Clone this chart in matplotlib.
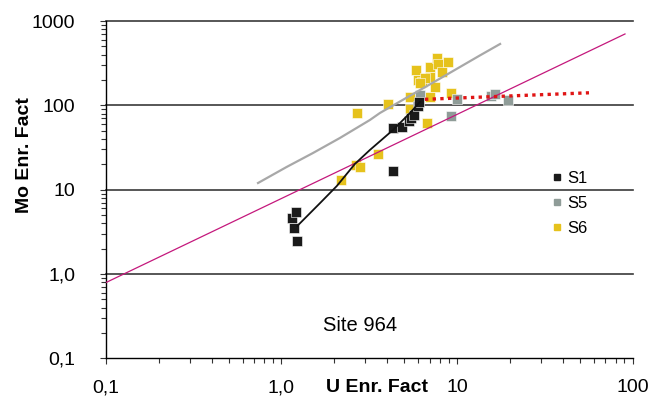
import numpy as np
import matplotlib as mpl
import matplotlib.pyplot as plt
import matplotlib.lines as mlines
from matplotlib.ticker import FixedLocator, FixedFormatter, LogLocator, NullFormatter

mpl.rcParams.update({
    'font.family': ['Liberation Sans', 'DejaVu Sans'],
    'font.size': 14,
    'axes.linewidth': 1.0,
})

# --- data ---
s1_u = [1.23, 1.18, 1.15, 1.21, 4.32, 4.86, 5.33, 5.47, 5.69, 5.99, 6.07, 4.32]
s1_mo = [2.46, 3.51, 4.62, 5.44, 53.9, 55.4, 65.3, 70.9, 76.9, 98.4, 110, 16.7]

s5_u = [6.15, 10.0, 9.25, 15.6, 16.5, 19.5]
s5_mo = [133, 119, 74.9, 129, 137, 116]

s6_u = [2.18, 2.66, 2.80, 3.55, 2.69, 4.04, 5.40, 5.40, 6.75, 5.84, 5.99, 6.32,
        7.02, 7.69, 7.80, 8.22, 7.02, 8.89, 7.49, 7.02, 9.25, 6.57, 6.15]
s6_mo = [13.0, 19.6, 18.6, 26.5, 81.3, 104, 126, 90.6, 61.8, 263, 200, 189,
         286, 365, 310, 249, 217, 327, 165, 126, 140, 211, 184]

# trend lines
s1_fit_u = [1.23, 1.66, 2.07, 2.62, 3.19, 4.32, 5.40, 6.15]
s1_fit_mo = [3.71, 6.95, 11.1, 20.2, 29.6, 51.1, 81.3, 110]

s6_fit_u = [0.735, 1.07, 1.51, 2.15, 3.19, 3.64, 8.0, 13.5, 17.6]
s6_fit_mo = [12.0, 18.6, 27.2, 41.0, 67.1, 81.3, 208, 391, 535]

s5_fit_u = [6.57, 56.5]
s5_fit_mo = [118, 141]

sw_u = [0.1, 90.6]
sw_mo = [0.792, 703]

y_ticks = [0.1, 1, 10, 100, 1000]
y_labels = ['0,1', '1,0', '10', '100', '1000']
x_ticks = [0.1, 1, 10, 100]
x_labels = ['0,1', '1,0', '10', '100']

C_S1 = '#1a1a1a'
C_S5 = '#8f9c98'
C_S6 = '#e6c21c'

fig = plt.figure(figsize=(6.49, 3.99), dpi=100)
ax = fig.add_axes([0.1633, 0.102, 0.8113, 0.8452])
ax.set_xscale('log')
ax.set_yscale('log')
ax.set_xlim(0.1, 100)
ax.set_ylim(0.1, 1000)

for yv in y_ticks[1:]:
    ax.axhline(yv, color='#3a3a3a', linewidth=1.2, zorder=1, clip_on=False)

mk = dict(marker='s', linestyle='none', markersize=6.5,
          markeredgecolor='white', markeredgewidth=0.4, zorder=3)
ax.plot(s6_u, s6_mo, color=C_S6, **mk)
ax.plot(s5_u, s5_mo, color=C_S5, **mk)
ax.plot(s1_u, s1_mo, color=C_S1, **mk)

ax.plot(sw_u, sw_mo, color='#c4187c', linewidth=0.9, zorder=4)
ax.plot(s6_fit_u, s6_fit_mo, color='#a8a8a8', linewidth=1.6, zorder=4)
ax.plot(s1_fit_u, s1_fit_mo, color='#111111', linewidth=1.3, zorder=4)
ax.plot(s5_fit_u, s5_fit_mo, color='#e01515', linewidth=2.4,
        linestyle=(0, (1, 1.3)), zorder=4)

for sp in ('top', 'right'):
    ax.spines[sp].set_visible(False)

ax.yaxis.set_major_locator(FixedLocator(y_ticks))
ax.yaxis.set_major_formatter(FixedFormatter(y_labels))
ax.xaxis.set_major_locator(FixedLocator(x_ticks))
ax.xaxis.set_major_formatter(FixedFormatter(x_labels))
for axis in (ax.xaxis, ax.yaxis):
    axis.set_minor_locator(LogLocator(base=10, subs=np.arange(2, 10)))
    axis.set_minor_formatter(NullFormatter())

ax.tick_params(axis='both', which='both', direction='out', width=0.8,
               labelsize=14, color='#333333')
ax.tick_params(axis='both', which='major', length=4)
ax.tick_params(axis='both', which='minor', length=3.5)
ax.tick_params(axis='y', which='major', pad=18)
ax.tick_params(axis='x', which='major', pad=11)

ax.set_xlabel('U Enr. Fact', fontsize=14, fontweight='bold')
ax.xaxis.set_label_coords(0.515, -0.06)
ax.set_ylabel('Mo Enr. Fact', fontsize=14, fontweight='bold')
ax.yaxis.set_label_coords(-0.139, 0.603)

ax.text(0.482, 0.098, 'Site 964', transform=ax.transAxes,
        fontsize=14.5, ha='center', va='center')

handles = [
    mlines.Line2D([], [], color=c, marker='s', linestyle='none',
                  markersize=5, label=l)
    for c, l in ((C_S1, 'S1'), (C_S5, 'S5'), (C_S6, 'S6'))
]
ax.legend(handles=handles, loc='upper left', bbox_to_anchor=(0.847, 0.555),
          frameon=False, fontsize=12, handlelength=0.6, handletextpad=0.3,
          labelspacing=0.6, borderpad=0, borderaxespad=0)

fig.savefig('out.png', dpi=100)
